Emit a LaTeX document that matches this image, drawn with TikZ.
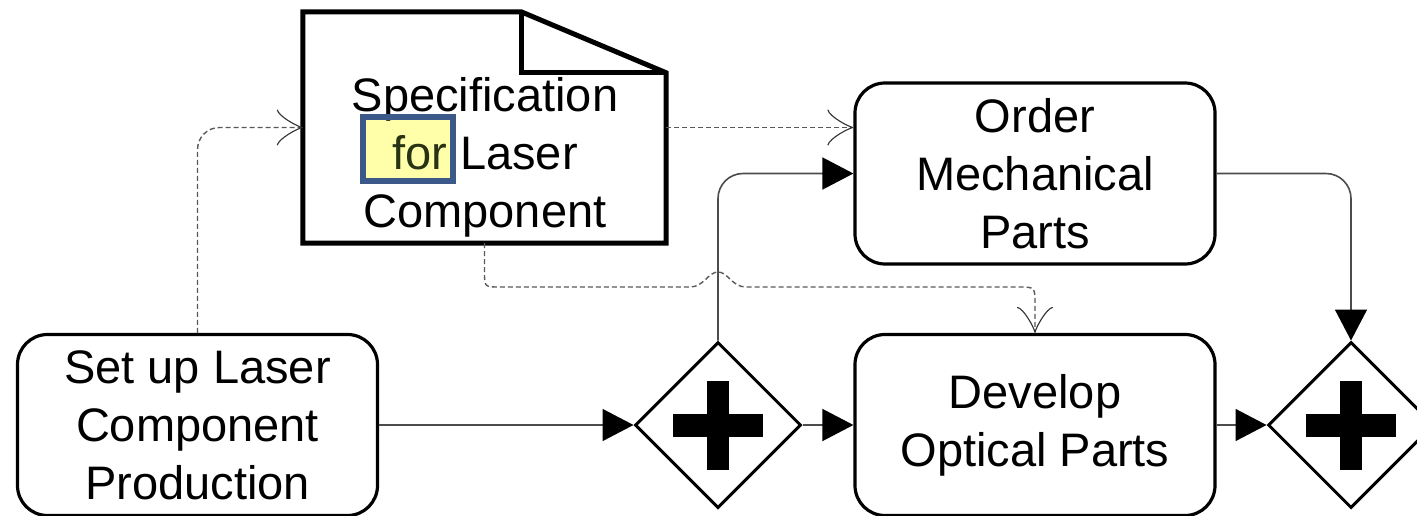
\documentclass[tikz,border=0pt]{standalone}
\usepackage{fontspec}
\setmainfont{Liberation Sans}
\usetikzlibrary{arrows.meta,shapes.geometric,calc}

\definecolor{hlblue}{RGB}{60,90,137}
\definecolor{hlyellow}{RGB}{255,255,170}
\definecolor{hltext}{RGB}{40,50,20}

\begin{document}
\begin{tikzpicture}[x=1pt,y=-1pt,
  lbl/.style={align=center, font=\fontsize{47}{58}\selectfont, inner sep=0pt},
  task/.style={lbl, draw, line width=3.2pt, rounded corners=30pt,
    minimum width=360pt, minimum height=181pt},
  gate/.style={draw, diamond, line width=3pt, minimum width=166pt,
    minimum height=166pt, inner sep=0pt, fill=white},
  flow/.style={draw=black!70, line width=1.6pt, rounded corners=25pt,
    -{Triangle[length=31pt,width=32pt,color=black]}},
  assoc/.style={draw=black!65, line width=1.4pt, dash pattern=on 5pt off 3pt,
    rounded corners=22pt,
    -{Classical TikZ Rightarrow[length=26pt,width=36pt,color=black!80]}},
  docline/.style={line width=5pt, line join=miter}]

  \useasboundingbox (0,0) rectangle (1417,515);

  % tasks
  \node[task] (setup) at (197.5,425) {Set up Laser\\Component\\Production};
  \node[task] (order) at (1035,173.5) {Order\\Mechanical\\Parts};
  \node[task] (dev)   at (1035,425) {Develop\\Optical Parts};

  % parallel gateways
  \node[gate] (g1) at (718,425) {};
  \node[gate] (g2) at (1351,425) {};
  \foreach \g in {g1,g2} {
    \fill ([shift={(-45,-11.5)}]\g.center) rectangle ([shift={(45,11.5)}]\g.center);
    \fill ([shift={(-11,-44.5)}]\g.center) rectangle ([shift={(11,44.5)}]\g.center);
  }

  % data object with folded corner
  \node[minimum width=363pt, minimum height=231pt, inner sep=0pt] (doc) at (484.5,127.5) {};
  \draw[docline] (doc.south west) -- (doc.north west)
    -- ($(doc.north east)+(-145,0)$) -- ($(doc.north east)+(0,61)$)
    -- (doc.south east) -- cycle;
  \draw[docline] ($(doc.north east)+(-145,0)$) -- ($(doc.north east)+(-145,61)$)
    -- ($(doc.north east)+(0,61)$);

  % highlight behind the word "for"
  \node[fill=hlyellow, minimum width=89pt, minimum height=63pt, inner sep=0pt] (hl) at (408,149) {};
  \node[lbl] (doctext) at (485,157) {Specification\\\textcolor{hltext}{for} Laser\\Component};
  \draw[hlblue, line width=6pt] (hl.south west) rectangle (hl.north east);

  % sequence flows
  \draw[flow] (setup.east) -- (g1.west);
  \draw[flow] (g1.east) -- (dev.west);
  \draw[flow] (g1.north) |- (order.west);
  \draw[flow] (order.east) -| (g2.north);
  \draw[flow] (dev.east) -- (g2.west);

  % data associations
  \draw[assoc] (setup.north) |- (doc.west);
  \draw[assoc] (doc.east) -- (order.west |- doc.east);
  \draw[assoc, rounded corners=0pt] (doc.south) -- (484.5,272)
    .. controls (484.5,287) .. (500,287) -- (690,287)
    .. controls (704,287) and (708,272) .. (718,272)
    .. controls (728,272) and (732,287) .. (746,287) -- (1018,287)
    .. controls (1035,287) .. (1035,304) -- (dev.north);
\end{tikzpicture}
\end{document}
